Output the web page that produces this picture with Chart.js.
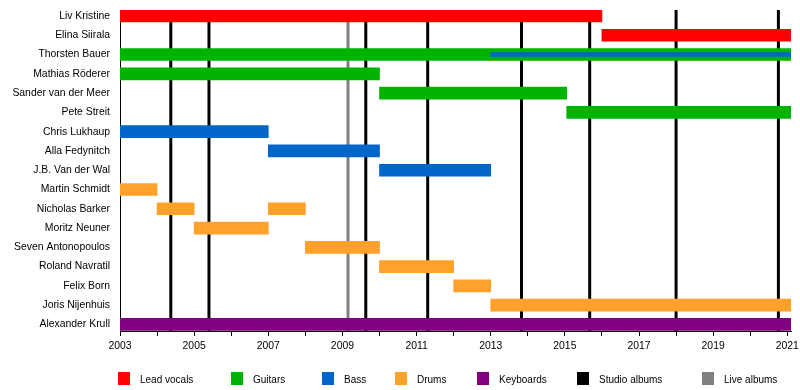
<!DOCTYPE html>
<html>
<head>
<meta charset="utf-8">
<script src="https://cdn.jsdelivr.net/npm/chart.js@4.4.0/dist/chart.umd.min.js"></script>
<style>
  body { margin: 0; background: #fff; }
  #wrap { position: relative; width: 800px; height: 390px; }
  #legend { position: absolute; left: 0; top: 372px; width: 800px; height: 14px;
            font: 10px "Liberation Sans", Arial, sans-serif; color: #000; }
  .item { position: absolute; top: 0; }
  .sw { position: absolute; left: 0; top: 0; width: 12px; height: 13px; }
  .lbl { position: absolute; left: 22px; top: 1px; line-height: 13px; white-space: nowrap; }
</style>
</head>
<body>
<div id="wrap">
  <canvas id="timeline" width="800" height="390"></canvas>
  <div id="legend"></div>
</div>
<script>
// band members, top to bottom
const members = [
  "Liv Kristine", "Elina Siirala", "Thorsten Bauer", "Mathias Röderer",
  "Sander van der Meer", "Pete Streit", "Chris Lukhaup", "Alla Fedynitch",
  "J.B. Van der Wal", "Martin Schmidt", "Nicholas Barker", "Moritz Neuner",
  "Seven Antonopoulos", "Roland Navratil", "Felix Born", "Joris Nijenhuis",
  "Alexander Krull"
];

const START = 2003;
const END = 2021.1;

// [member, from, to]
const vocals = [["Liv Kristine", 2003, 2016], ["Elina Siirala", 2016, END]];
const guitars = [
  ["Thorsten Bauer", 2003, END], ["Mathias Röderer", 2003, 2010],
  ["Sander van der Meer", 2010, 2015.05], ["Pete Streit", 2015.05, END]
];
const bass = [["Chris Lukhaup", 2003, 2007], ["Alla Fedynitch", 2007, 2010], ["J.B. Van der Wal", 2010, 2013]];
const bassSecondary = [["Thorsten Bauer", 2013, END]];
const drums = [
  ["Martin Schmidt", 2003, 2004], ["Nicholas Barker", 2004, 2005],
  ["Moritz Neuner", 2005, 2007], ["Nicholas Barker", 2007, 2008],
  ["Seven Antonopoulos", 2008, 2010], ["Roland Navratil", 2010, 2012],
  ["Felix Born", 2012, 2013], ["Joris Nijenhuis", 2013, END]
];
const keyboards = [["Alexander Krull", 2003, END]];

const studioAlbums = [2004.37, 2005.4, 2009.63, 2011.3, 2013.83, 2015.67, 2018.0, 2020.76];
const liveAlbums = [2009.15];

const years = [2003, 2004, 2005, 2006, 2007, 2008, 2009, 2010, 2011, 2012,
               2013, 2014, 2015, 2016, 2017, 2018, 2019, 2020, 2021];

const legendNames = ["Lead vocals", "Guitars", "Bass", "Drums", "Keyboards", "Studio albums", "Live albums"];
const legendColors = ["#ff0000", "#00b300", "#0066cc", "#ffa12b", "#800080", "#000000", "#808080"];

const toBars = (list) => list.map(([name, from, to]) => ({ x: [from, to], y: members.indexOf(name) }));

Chart.defaults.font.family = '"Liberation Sans", Arial, sans-serif';
Chart.defaults.font.size = 10.4;
Chart.defaults.color = "#000";

// album release lines, behind the bars
const albumLines = {
  id: "albumLines",
  beforeDatasetsDraw(chart) {
    const { ctx, chartArea, scales: { x } } = chart;
    ctx.save();
    ctx.lineWidth = 3;
    const draw = (list, color) => {
      ctx.strokeStyle = color;
      list.forEach((v) => {
        const px = x.getPixelForValue(v);
        ctx.beginPath();
        ctx.moveTo(px, chartArea.top);
        ctx.lineTo(px, chartArea.bottom);
        ctx.stroke();
      });
    };
    draw(studioAlbums, legendColors[5]);
    draw(liveAlbums, legendColors[6]);
    ctx.restore();
  }
};

const barBase = { grouped: false, barThickness: 12, borderWidth: 0, borderSkipped: false };

new Chart(document.getElementById("timeline"), {
  type: "bar",
  data: {
    datasets: [
      { ...barBase, label: "Bass (2nd)", data: toBars(bassSecondary), backgroundColor: legendColors[2], barThickness: 4, order: -1 },
      { ...barBase, label: "Lead vocals", data: toBars(vocals), backgroundColor: legendColors[0] },
      { ...barBase, label: "Guitars", data: toBars(guitars), backgroundColor: legendColors[1] },
      { ...barBase, label: "Bass", data: toBars(bass), backgroundColor: legendColors[2] },
      { ...barBase, label: "Drums", data: toBars(drums), backgroundColor: legendColors[3] },
      { ...barBase, label: "Keyboards", data: toBars(keyboards), backgroundColor: legendColors[4] }
    ]
  },
  options: {
    indexAxis: "y",
    responsive: false,
    animation: false,
    layout: { padding: { top: 10, right: 9, bottom: 35, left: 0 } },
    plugins: { legend: { display: false }, tooltip: { enabled: false } },
    scales: {
      x: {
        type: "linear",
        min: START,
        max: END,
        afterBuildTicks: (axis) => { axis.ticks = years.map((v) => ({ value: v })); },
        afterFit: (axis) => { axis.height = 24; axis.paddingLeft = 0; axis.paddingRight = 0; },
        ticks: {
          autoSkip: false,
          maxRotation: 0,
          padding: 4,
          callback: (v) => (v % 2 === 1 ? String(v) : "")
        },
        grid: { drawOnChartArea: false, drawTicks: true, tickLength: 5, color: "#000" },
        border: { display: true, color: "#000", width: 1 }
      },
      y: {
        type: "linear",
        reverse: true,
        offset: false,
        min: -0.31,
        max: 16.34,
        afterBuildTicks: (axis) => { axis.ticks = members.map((_, i) => ({ value: i })); },
        afterFit: (axis) => { axis.width = 120; axis.paddingTop = 0; axis.paddingBottom = 0; },
        ticks: { autoSkip: false, padding: 10, callback: (v) => members[v] },
        grid: { display: false, drawTicks: false },
        border: { display: true, color: "#000", width: 1 }
      }
    }
  },
  plugins: [albumLines]
});

// legend row under the chart
const legendLeft = [118, 231, 322, 395, 477, 577, 702];
const legend = document.getElementById("legend");
legendNames.forEach((name, i) => {
  const item = document.createElement("div");
  item.className = "item";
  item.style.left = legendLeft[i] + "px";
  item.innerHTML = '<div class="sw" style="background:' + legendColors[i] + '"></div><div class="lbl">' + name + "</div>";
  legend.appendChild(item);
});
</script>
</body>
</html>
